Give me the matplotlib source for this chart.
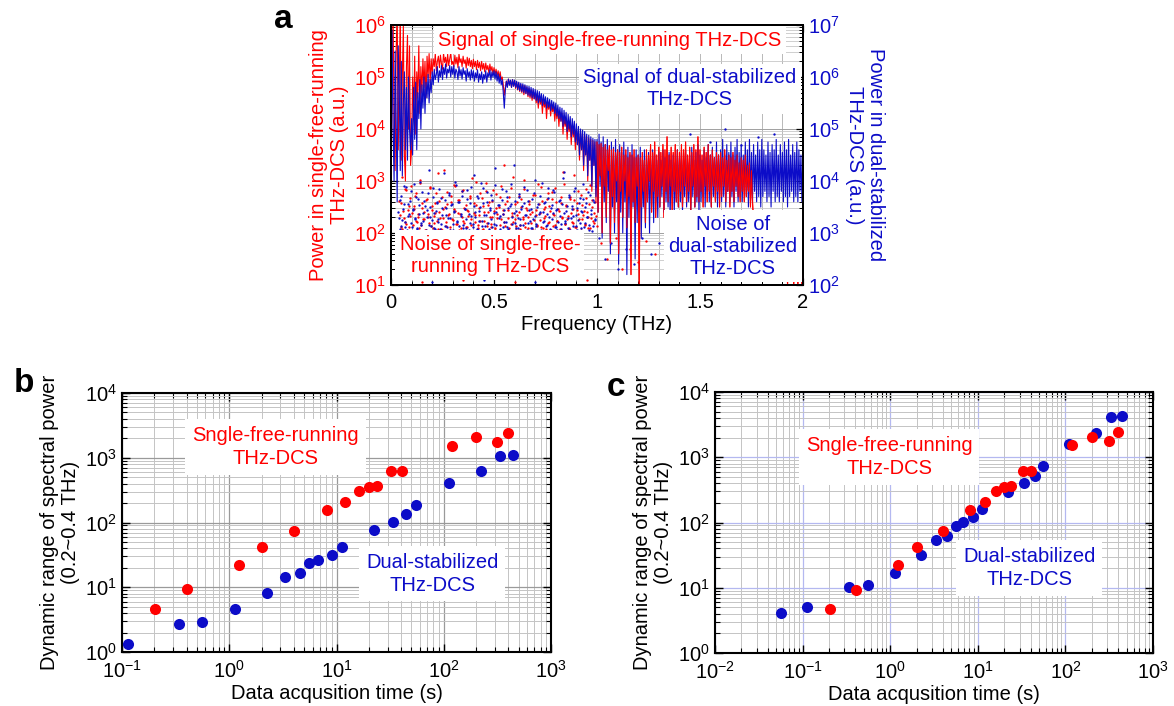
import numpy as np
import matplotlib
matplotlib.use('Agg')
import matplotlib.pyplot as plt
from matplotlib.ticker import LogLocator, MultipleLocator, FixedLocator, NullFormatter, LogFormatterMathtext

plt.rcParams['font.family'] = ['Liberation Sans', 'DejaVu Sans']
plt.rcParams['mathtext.fontset'] = 'custom'
plt.rcParams['mathtext.rm'] = 'Liberation Sans'
plt.rcParams['mathtext.default'] = 'regular'

RED = '#ff0000'
BLUE = '#0c0cc8'
FS = 14.5

# ---------------- Panel a data (log10 of power) ----------------
freq_step = 0.005  # THz, spacing of the listed trace samples
# single-free-running signal, log10 on the left axis (one row = 0.1 THz)
red_signal_log = [
    3.0, 4.5, 6.3, 4.0, 3.2, 5.5, 6.3, 3.6, 4.8, 6.3, 3.4, 5.0, 6.0, 3.5, 3.0, 5.2, 5.8, 4.0, 5.6, 3.3,
    3.6, 5.0, 4.2, 5.4, 3.9, 5.1, 4.6, 5.6, 4.3, 5.2, 4.7, 5.35, 4.8, 5.3, 4.6, 5.4, 5.0, 5.45, 4.9, 5.35,
    5.05, 5.35, 5.2, 5.45, 5.12, 5.3, 5.4, 5.18, 5.42, 5.25, 5.15, 5.46, 5.28, 5.38, 5.2, 5.44, 5.22, 5.35, 5.47, 5.24,
    5.3, 5.2, 5.42, 5.25, 5.38, 5.18, 5.44, 5.28, 5.35, 5.2, 5.4, 5.26, 5.33, 5.17, 5.38, 5.22, 5.36, 5.2, 5.32, 5.16,
    5.34, 5.2, 5.3, 5.14, 5.32, 5.18, 5.28, 5.12, 5.3, 5.15, 5.26, 5.1, 5.27, 5.14, 5.22, 5.08, 5.25, 5.12, 5.2, 5.06,
    5.18, 5.05, 5.15, 5.02, 5.12, 4.98, 5.1, 4.95, 5.0, 4.85, 4.65, 4.8, 4.92, 4.82, 4.96, 4.86, 4.93, 4.8, 4.95, 4.83,
    4.92, 4.78, 4.9, 4.75, 4.88, 4.72, 4.86, 4.7, 4.84, 4.66, 4.83, 4.68, 4.8, 4.62, 4.78, 4.6, 4.75, 4.55, 4.74, 4.58,
    4.7, 4.5, 4.68, 4.4, 4.65, 4.48, 4.6, 4.3, 4.58, 4.42, 4.55, 4.2, 4.52, 4.38, 4.5, 4.25, 4.47, 4.33, 4.45, 4.15,
    4.4, 4.2, 4.38, 4.05, 4.32, 4.15, 4.3, 3.9, 4.25, 4.05, 4.2, 3.8, 4.15, 3.95, 4.12, 3.7, 4.08, 3.85, 4.05, 3.6,
    4.0, 3.7, 3.98, 3.4, 3.95, 3.6, 3.9, 3.2, 3.88, 3.5, 3.85, 3.0, 3.82, 3.4, 3.8, 2.8, 3.78, 3.3, 3.75, 2.6,
    3.75, 2.4, 3.7, 3.1, 3.72, 2.0, 3.65, 2.9, 3.7, 2.3, 3.6, 3.2, 3.68, 1.8, 3.6, 2.7, 3.62, 2.2, 3.55, 3.0,
    3.6, 1.6, 3.55, 2.8, 3.65, 2.3, 3.5, 3.0, 3.6, 2.1, 3.45, 2.7, 3.55, 1.2, 3.5, 2.6, 3.6, 2.2, 3.45, 2.9,
    3.5, 1.0, 3.45, 2.5, 3.55, 2.8, 3.4, 2.2, 3.6, 2.6, 3.5, 3.0, 3.7, 2.4, 3.55, 2.8, 3.75, 2.3, 3.5, 2.7,
    3.65, 2.5, 3.55, 2.9, 3.7, 2.3, 3.6, 2.8, 3.85, 2.6, 3.5, 2.9, 3.65, 2.4, 3.55, 2.8, 3.7, 2.6, 3.6, 2.5,
    3.55, 2.8, 3.7, 2.5, 3.6, 2.9, 3.75, 2.6, 3.5, 2.8, 3.65, 2.4, 3.55, 2.9, 3.7, 2.5, 3.6, 2.7, 3.85, 2.6,
    3.6, 2.8, 3.5, 2.5, 3.65, 2.9, 3.55, 2.6, 3.7, 2.8, 3.5, 2.5, 3.6, 2.9, 3.45, 2.6, 3.55, 2.8, 3.5, 2.5,
    3.55, 2.7, 3.45, 2.9, 3.6, 2.6, 3.4, 2.8, 3.5, 2.5, 3.45, 2.8, 3.55, 2.6, 3.4, 2.9, 3.5, 2.7, 3.35, 2.6,
    3.45, 2.8, 3.4, 2.6, 3.5, 2.7, 3.3, 2.8, 3.35, 2.5, 3.2, 2.6, 2.2, 1.8, 2.1, 1.5, 2.0, 1.6, 1.9, 1.3,
    2.0, 1.4, 1.8, 1.2, 1.9, 1.5, 1.7, 1.1, 1.8, 1.3, 2.0, 1.4, 1.7, 1.2, 1.9, 1.5, 1.6, 1.1, 1.8, 1.3,
    1.9, 1.2, 1.7, 1.4, 1.6, 1.0, 1.8, 1.3, 1.5, 1.1, 1.7, 1.0, 1.6, 1.3, 1.5, 1.0, 1.4, 1.1, 1.5, 1.0,
    1.2]
# dual-stabilized signal, log10 on the right axis (one row = 0.1 THz)
blue_signal_log = [
    4.0, 6.9, 5.0, 4.0, 6.5, 5.2, 3.6, 6.6, 5.8, 4.2, 6.3, 4.1, 5.5, 6.1, 4.6, 5.8, 4.4, 6.0, 5.0, 4.6,
    5.2, 4.5, 5.8, 4.8, 5.9, 4.6, 5.7, 5.2, 5.95, 5.0, 5.85, 5.4, 6.0, 5.3, 5.9, 5.6, 6.05, 5.5, 5.95, 5.7,
    6.1, 5.85, 6.15, 5.95, 6.05, 6.2, 5.9, 6.12, 6.0, 6.22, 5.95, 6.18, 6.05, 6.25, 5.98, 6.15, 6.08, 6.22, 6.0, 6.2,
    6.05, 6.22, 5.98, 6.15, 6.1, 5.95, 6.2, 6.02, 6.14, 5.96, 6.18, 6.05, 6.12, 5.92, 6.16, 6.0, 6.1, 5.94, 6.14, 5.98,
    6.12, 5.92, 6.08, 5.98, 6.14, 5.9, 6.06, 5.95, 6.1, 5.88, 6.05, 5.96, 6.12, 5.9, 6.08, 6.0, 6.14, 5.94, 6.1, 6.0,
    6.12, 5.96, 6.1, 5.92, 6.06, 5.88, 6.02, 5.85, 5.95, 5.7, 5.4, 5.75, 5.92, 5.8, 5.96, 5.84, 5.94, 5.8, 5.95, 5.82,
    5.94, 5.8, 5.92, 5.76, 5.9, 5.74, 5.88, 5.72, 5.87, 5.7, 5.85, 5.68, 5.83, 5.65, 5.82, 5.63, 5.8, 5.6, 5.78, 5.58,
    5.76, 5.55, 5.74, 5.5, 5.72, 5.52, 5.68, 5.45, 5.66, 5.48, 5.62, 5.4, 5.6, 5.42, 5.57, 5.35, 5.55, 5.38, 5.52, 5.3,
    5.5, 5.25, 5.46, 5.2, 5.42, 5.15, 5.4, 5.05, 5.36, 5.1, 5.32, 4.95, 5.28, 5.0, 5.24, 4.85, 5.2, 4.9, 5.15, 4.75,
    5.1, 4.7, 5.05, 4.5, 5.0, 4.6, 4.98, 4.3, 4.95, 4.5, 4.9, 4.1, 4.88, 4.4, 4.85, 3.9, 4.82, 4.3, 4.8, 3.7,
    4.8, 3.4, 4.9, 3.9, 4.75, 2.9, 4.85, 3.6, 4.7, 3.2, 4.8, 3.8, 4.6, 2.6, 4.75, 3.5, 4.65, 3.0, 4.8, 3.6,
    4.6, 2.4, 4.7, 3.4, 4.55, 3.0, 4.75, 3.6, 4.5, 2.2, 4.65, 3.3, 4.5, 2.8, 4.7, 3.5, 4.45, 2.5, 4.6, 3.2,
    4.5, 3.4, 4.65, 2.9, 4.4, 3.5, 4.6, 3.1, 4.45, 3.6, 4.55, 3.0, 4.4, 3.5, 4.6, 3.2, 4.5, 3.6, 4.4, 3.3,
    4.55, 3.5, 4.4, 3.7, 4.6, 3.4, 4.45, 3.6, 4.3, 3.5, 4.55, 3.3, 4.4, 3.7, 4.5, 3.4, 4.35, 3.6, 4.6, 3.5,
    4.45, 3.6, 4.55, 3.4, 4.4, 3.7, 4.6, 3.5, 4.35, 3.6, 4.5, 3.4, 4.65, 3.7, 4.4, 3.5, 4.55, 3.6, 4.7, 3.4,
    4.5, 3.6, 4.4, 3.7, 4.6, 3.5, 4.45, 3.8, 4.7, 3.6, 4.5, 3.5, 4.65, 3.7, 4.45, 3.6, 4.75, 3.5, 4.5, 3.7,
    4.6, 3.6, 4.8, 3.7, 4.5, 3.5, 4.7, 3.8, 4.55, 3.6, 4.75, 3.7, 4.5, 3.5, 4.65, 3.8, 4.8, 3.6, 4.55, 3.7,
    4.7, 3.6, 4.5, 3.8, 4.75, 3.7, 4.6, 3.5, 4.8, 3.7, 4.55, 3.6, 4.7, 3.8, 4.5, 3.6, 4.75, 3.7, 4.6, 3.5,
    4.8, 3.7, 4.6, 3.8, 4.5, 3.6, 4.75, 3.7, 4.55, 3.5, 4.7, 3.8, 4.6, 3.6, 4.8, 3.7, 4.5, 3.6, 4.7, 3.8,
    4.55, 3.6, 4.75, 3.7, 4.6, 3.5, 4.8, 3.7, 4.5, 3.8, 4.7, 3.6, 4.55, 3.7, 4.75, 3.6, 4.6, 3.8, 4.5, 3.6,
    4.7]
# noise floors (log10), two interleaved sample sets spread over 0.04-1.0 THz
red_noise_log = [
    2.62, 2.11, 3.08, 2.43, 2.21, 2.83, 2.04, 2.51, 2.33, 2.91,
    2.16, 2.47, 2.72, 2.24, 2.36, 2.09, 3.01, 2.57, 2.26, 2.41,
    2.06, 2.66, 2.31, 2.86, 2.14, 2.52, 2.19, 2.39, 2.77, 2.08,
    2.61, 2.29, 2.05, 2.46, 3.22, 2.21, 2.56, 2.34, 2.12, 2.71,
    2.27, 2.93, 2.42, 2.17, 2.63, 2.05, 2.37, 2.81, 2.23, 2.49,
    2.11, 2.44, 2.32, 2.67, 2.15, 3.06, 2.38, 2.22, 2.54, 2.09,
    2.35, 2.76, 2.06, 2.51, 2.24, 2.96, 2.13, 2.41, 2.59, 2.18,
    2.31, 2.82, 2.10, 2.48, 2.36, 2.04, 2.69, 2.26, 2.45, 3.31,
    2.14, 2.62, 2.29, 2.09, 2.87, 2.39, 2.21, 2.55, 2.05, 2.34,
    2.71, 2.16, 2.50, 2.27, 3.02, 2.11, 2.44, 2.30, 2.61, 2.19,
    2.40, 2.06, 2.74, 2.35, 2.13, 2.56, 2.25, 2.89, 2.10, 2.46,
    2.32, 2.66, 2.20, 2.52, 2.05, 2.79, 2.37, 2.15, 2.60, 2.24,
    2.43, 2.08, 2.70, 2.28, 2.94, 2.18, 2.53, 2.33, 2.07, 2.65,
    2.22, 2.47, 3.12, 2.12, 2.58, 2.36, 2.04, 2.73, 2.27, 2.42,
    2.17, 2.84, 2.30, 2.55, 2.10, 2.64, 2.23, 2.38, 2.98, 2.14]
red_noise2_log = [
    2.34, 2.58, 2.07, 2.29, 2.85, 2.18, 2.44, 2.12, 2.67, 2.39,
    2.03, 2.52, 2.76, 2.21, 2.31, 2.97, 2.15, 2.48, 2.26, 2.06,
    2.63, 2.37, 2.19, 2.88, 2.45, 2.10, 2.33, 2.57, 2.23, 3.15,
    2.41, 2.08, 2.69, 2.28, 2.50, 2.14, 2.78, 2.36, 2.05, 2.60,
    2.25, 2.47, 2.91, 2.17, 2.39, 2.64, 2.09, 2.30, 2.83, 2.20,
    2.54, 2.12, 2.43, 2.72, 2.27, 2.04, 2.58, 2.35, 2.99, 2.16,
    2.49, 2.24, 2.68, 2.08, 2.40, 2.80, 2.19, 2.53, 2.31, 2.11,
    2.62, 2.42, 2.06, 2.75, 2.28, 2.50, 2.15, 2.90, 2.37, 2.22,
    2.56, 2.03, 2.45, 2.70, 2.18, 2.33, 3.08, 2.26, 2.13, 2.59,
    2.40, 2.07, 2.66, 2.30, 2.84, 2.20, 2.48, 2.10, 2.55, 2.36,
    2.05, 2.73, 2.25, 2.44, 2.16, 2.95, 2.38, 2.12, 2.61, 2.29,
    2.50, 2.08, 2.77, 2.21, 2.42, 2.65, 2.14, 2.34, 2.86, 2.23,
    2.47, 2.04, 2.58, 2.31, 3.18, 2.17, 2.52, 2.27, 2.09, 2.70,
    2.39, 2.20, 2.63, 2.11, 2.45, 2.81, 2.26, 2.06, 2.54, 2.35,
    2.15, 2.67, 2.41, 2.10, 2.92, 2.28, 2.50, 2.19, 2.60, 2.32]
blue_noise_log = [
    3.41, 3.07, 3.72, 3.25, 3.55, 3.12, 3.88, 3.33, 3.04, 3.61,
    3.19, 3.47, 3.95, 3.28, 3.09, 3.66, 3.37, 3.15, 3.79, 3.23,
    3.52, 3.05, 3.44, 4.21, 3.31, 3.13, 3.69, 3.39, 3.08, 3.58,
    3.26, 3.84, 3.17, 3.49, 3.03, 3.63, 3.35, 3.11, 3.76, 3.29,
    3.54, 3.06, 3.42, 3.98, 3.21, 3.60, 3.14, 3.36, 3.71, 3.10,
    3.46, 3.27, 3.82, 3.05, 3.57, 3.32, 3.18, 4.12, 3.40, 3.08,
    3.67, 3.24, 3.50, 3.13, 3.86, 3.34, 3.04, 3.59, 3.20, 3.45,
    3.74, 3.11, 3.38, 3.93, 3.16, 3.53, 3.28, 3.07, 3.64, 3.37,
    3.22, 3.80, 3.12, 3.48, 3.03, 3.56, 3.30, 4.31, 3.19, 3.43,
    3.09, 3.70, 3.26, 3.51, 3.15, 3.89, 3.35, 3.06, 3.62, 3.24,
    3.47, 3.10, 3.77, 3.32, 3.18, 3.55, 3.04, 3.41, 3.96, 3.21,
    3.58, 3.14, 3.36, 3.68, 3.08, 3.49, 3.27, 3.83, 3.12, 3.44,
    3.05, 3.61, 3.33, 3.17, 4.05, 3.39, 3.23, 3.52, 3.09, 3.73,
    3.29, 3.46, 3.13, 3.87, 3.35, 3.06, 3.57, 3.20, 3.42, 3.66,
    3.11, 3.50, 3.31, 3.79, 3.16, 3.45, 3.03, 3.63, 3.25, 3.91]
blue_noise2_log = [
    3.28, 3.63, 3.14, 3.47, 3.90, 3.22, 3.05, 3.56, 3.36, 3.81,
    3.12, 3.44, 3.27, 3.70, 3.08, 3.53, 3.99, 3.19, 3.39, 3.62,
    3.04, 3.31, 3.77, 3.16, 3.50, 3.25, 3.86, 3.10, 3.43, 3.60,
    3.21, 3.07, 3.68, 3.34, 4.15, 3.13, 3.48, 3.29, 3.74, 3.06,
    3.55, 3.18, 3.41, 3.92, 3.24, 3.03, 3.59, 3.33, 3.80, 3.15,
    3.46, 3.09, 3.65, 3.37, 3.20, 3.88, 3.11, 3.52, 3.30, 3.71,
    3.05, 3.42, 3.97, 3.23, 3.58, 3.14, 3.35, 3.78, 3.08, 3.49,
    3.26, 3.64, 3.17, 4.25, 3.40, 3.04, 3.54, 3.32, 3.85, 3.12,
    3.45, 3.21, 3.69, 3.07, 3.51, 3.94, 3.18, 3.38, 3.61, 3.10,
    3.29, 3.75, 3.15, 3.47, 3.03, 3.57, 3.34, 3.83, 3.20, 3.44,
    3.09, 3.66, 3.27, 4.02, 3.13, 3.50, 3.36, 3.72, 3.06, 3.41,
    3.24, 3.59, 3.16, 3.87, 3.31, 3.04, 3.53, 3.39, 3.78, 3.11,
    3.46, 3.22, 3.63, 3.08, 3.55, 4.18, 3.19, 3.43, 3.28, 3.70,
    3.05, 3.52, 3.33, 3.81, 3.14, 3.48, 3.25, 3.67, 3.10, 3.40,
    3.95, 3.20, 3.57, 3.30, 3.06, 3.74, 3.37, 3.13, 3.60, 3.26]
# sparse outlying noise points
red_sparse_f = [1.02, 1.05, 1.09, 1.12, 1.16, 1.20, 1.24, 1.28, 0.15, 0.35, 0.60, 0.80, 0.95]
red_sparse_log = [1.8, 1.5, 1.9, 1.3, 1.7, 1.45, 1.85, 1.6, 1.05, 1.1, 1.05, 1.15, 1.1]
blue_sparse_f = [1.01, 1.04, 1.07, 1.10, 1.14, 1.18, 1.22, 1.26, 1.30, 0.20, 0.45, 0.70, 0.90,
                 1.45, 1.55, 1.62, 1.70, 1.78, 1.86]
blue_sparse_log = [2.9, 2.5, 2.8, 2.3, 2.7, 2.4, 2.9, 2.6, 2.8, 2.05, 2.1, 2.05, 2.15,
                   4.9, 4.75, 5.0, 4.7, 4.85, 4.9]

# ---------------- Panels b, c data ----------------
t_single = [0.204, 0.405, 1.22, 2.03, 4.05, 8.07, 12.1, 16.1, 20.1, 24.1, 32.4, 40.4, 119, 201, 316, 398]
dr_single = [4.67, 9.4, 22.3, 42.4, 74, 156, 207, 306, 353, 362, 617, 617, 1518, 2067, 1772, 2440]
t_dual_b = [0.1135, 0.34, 0.56, 1.12, 2.25, 3.34, 4.52, 5.6, 6.72, 9.02, 11.3, 22.5, 33.4, 44.9, 55.6, 112, 223, 334, 445]
dr_dual_b = [1.35, 2.74, 2.94, 4.61, 8.25, 14.4, 16.8, 23.7, 26.4, 31.5, 41.3, 75.7, 103, 135, 189, 403, 617, 1064, 1116]
t_dual_c = [0.0566, 0.113, 0.336, 0.561, 1.12, 2.26, 3.34, 4.47, 5.6, 6.74, 8.9, 11.2, 22.3, 33.3, 44.5, 55.5, 110, 223, 334, 445]
dr_dual_c = [4.14, 4.99, 10.2, 11.2, 17.1, 31.5, 54.6, 62.9, 89.5, 102, 121, 159, 292, 405, 515, 735, 1580, 2390, 4150, 4350]

fig = plt.figure(figsize=(11.74, 7.06), dpi=100)

# ================= Panel a =================
axA = fig.add_axes([391/1174, 1-285/706, 412/1174, 260/706])
axB = axA.twinx()
f_red = np.arange(len(red_signal_log)) * freq_step
f_blue = np.arange(len(blue_signal_log)) * freq_step
f_rn = np.linspace(0.04, 1.0, len(red_noise_log))
f_rn2 = np.linspace(0.043, 0.997, len(red_noise2_log))
f_bn = np.linspace(0.035, 0.995, len(blue_noise_log))
f_bn2 = np.linspace(0.038, 0.992, len(blue_noise2_log))
red_sig = 10 ** np.array(red_signal_log)

dot = dict(marker='o', ls='none', ms=1.7, mew=0)
axA.plot(f_red, red_sig, color=RED, lw=0.8, zorder=3)
axA.plot(f_rn, 10 ** np.array(red_noise_log), color=RED, zorder=3, **dot)
axA.plot(f_rn2, 10 ** np.array(red_noise2_log), color=RED, zorder=3, **dot)
axA.plot(red_sparse_f, 10 ** np.array(red_sparse_log), color=RED, zorder=3, **dot)
axB.plot(f_blue, 10 ** np.array(blue_signal_log), color=BLUE, lw=0.8, zorder=2)
axB.plot(f_bn, 10 ** np.array(blue_noise_log), color=BLUE, zorder=2, **dot)
axB.plot(f_bn2, 10 ** np.array(blue_noise2_log), color=BLUE, zorder=2, **dot)
axB.plot(blue_sparse_f, 10 ** np.array(blue_sparse_log), color=BLUE, zorder=2, **dot)
# red trace above ~1 THz is drawn over the blue one in the reference:
# re-draw that part on the twin axis (right scale = left scale x 10)
hi = f_red >= 1.0
axB.plot(f_red[hi], red_sig[hi] * 10, color=RED, lw=0.7, zorder=2.5)

axA.set_xlim(0, 2)
axA.set_yscale('log'); axA.set_ylim(1e1, 1e6)
axB.set_yscale('log'); axB.set_ylim(1e2, 1e7)
axA.xaxis.set_major_locator(FixedLocator([0, 0.5, 1, 1.5, 2]))
axA.set_xticklabels(['0', '0.5', '1', '1.5', '2'])
axA.xaxis.set_minor_locator(MultipleLocator(0.1))
for ax in (axA, axB):
    ax.yaxis.set_major_locator(LogLocator(base=10, numticks=20))
    ax.yaxis.set_minor_locator(LogLocator(base=10, subs=np.arange(2, 10), numticks=20))
    ax.yaxis.set_major_formatter(LogFormatterMathtext())
    ax.yaxis.set_minor_formatter(NullFormatter())
axA.grid(which='both', axis='x', color='#b8b8b8', lw=0.7)
axA.grid(which='major', axis='y', color='#a0a0a0', lw=0.7)
axA.grid(which='minor', axis='y', color='#c8c8c8', lw=0.6)
axA.set_axisbelow(True)
axA.tick_params(axis='x', which='both', direction='in', top=True, labelsize=FS, pad=6)
axA.tick_params(axis='y', which='both', direction='in', labelsize=FS, labelcolor=RED)
axB.tick_params(axis='y', which='both', direction='in', labelsize=FS, labelcolor=BLUE)
for ax in (axA, axB):
    ax.tick_params(which='major', length=5, width=0.9)
    ax.tick_params(which='minor', length=3, width=0.7)
    for s in ax.spines.values():
        s.set_linewidth(1.4)
axA.set_xlabel('Frequency (THz)', fontsize=FS, labelpad=2)
axA.set_ylabel('Power in single-free-running\nTHz-DCS (a.u.)', fontsize=FS, color=RED,
               labelpad=4, linespacing=1.1)
axB.set_ylabel('Power in dual-stabilized\nTHz-DCS (a.u.)', fontsize=FS, color=BLUE,
               rotation=-90, va='bottom', labelpad=4, linespacing=1.1)

box = dict(facecolor='white', edgecolor='none', pad=3)
axB.text(0.5316, 0.942, 'Signal of single-free-running THz-DCS', transform=axB.transAxes,
         ha='center', va='center', fontsize=FS, color=RED, bbox=box, zorder=5)
axB.text(0.7257, 0.754, 'Signal of dual-stabilized\nTHz-DCS', transform=axB.transAxes,
         ha='center', va='center', fontsize=FS, color=BLUE, bbox=box, zorder=5, linespacing=1.2)
axB.text(0.240, 0.115, 'Noise of single-free-\nrunning THz-DCS', transform=axB.transAxes,
         ha='center', va='center', fontsize=FS, color=RED, bbox=box, zorder=5, linespacing=1.2)
axB.text(0.830, 0.150, 'Noise of\ndual-stabilized\nTHz-DCS', transform=axB.transAxes,
         ha='center', va='center', fontsize=FS, color=BLUE, bbox=box, zorder=5, linespacing=1.2)

# ================= Panels b, c =================
def style_log(ax, xlim, major_grid, minor_grid):
    ax.set_xscale('log'); ax.set_yscale('log')
    ax.set_xlim(*xlim); ax.set_ylim(1, 1e4)
    for axis in (ax.xaxis, ax.yaxis):
        axis.set_major_locator(LogLocator(base=10, numticks=20))
        axis.set_minor_locator(LogLocator(base=10, subs=np.arange(2, 10), numticks=20))
        axis.set_major_formatter(LogFormatterMathtext())
        axis.set_minor_formatter(NullFormatter())
    ax.grid(which='minor', color=minor_grid, lw=0.7)
    ax.grid(which='major', color=major_grid, lw=0.9)
    ax.set_axisbelow(True)
    ax.tick_params(which='both', direction='in', top=True, right=True, labelsize=FS)
    ax.tick_params(axis='x', which='both', pad=6)
    ax.tick_params(which='major', length=6, width=1)
    ax.tick_params(which='minor', length=3.5, width=0.8)
    for s in ax.spines.values():
        s.set_linewidth(1.5)
    ax.set_xlabel('Data acqusition time (s)', fontsize=FS, labelpad=1)
    ax.set_ylabel('Dynamic range of spectral power\n(0.2~0.4 THz)', fontsize=FS,
                  labelpad=4, linespacing=1.1)

box2 = dict(facecolor='white', edgecolor='none', pad=5)

axb = fig.add_axes([122/1174, 1-652/706, 429/1174, 259/706])
style_log(axb, (0.1, 1000), '#9a9a9a', '#c4c4c4')
axb.plot(t_single, dr_single, 'o', color=RED, ms=8, mew=0, zorder=3)
axb.plot(t_dual_b, dr_dual_b, 'o', color=BLUE, ms=8, mew=0, zorder=3)
axb.text(2.7, 1470, 'Sngle-free-running\nTHz-DCS', ha='center', va='center', fontsize=FS,
         color=RED, bbox=box2, zorder=4, linespacing=1.25)
axb.text(78, 16.2, 'Dual-stabilized\nTHz-DCS', ha='center', va='center', fontsize=FS,
         color=BLUE, bbox=box2, zorder=4, linespacing=1.25)

axc = fig.add_axes([715/1174, 1-653/706, 438/1174, 261/706])
style_log(axc, (0.01, 1000), '#b4b8f0', '#c4c4c4')
axc.plot(t_dual_c, dr_dual_c, 'o', color=BLUE, ms=8, mew=0, zorder=3)
axc.plot(t_single, dr_single, 'o', color=RED, ms=8, mew=0, zorder=3)
axc.text(0.975, 1015, 'Sngle-free-running\nTHz-DCS', ha='center', va='center', fontsize=FS,
         color=RED, bbox=box2, zorder=4, linespacing=1.25)
axc.text(38.5, 20, 'Dual-stabilized\nTHz-DCS', ha='center', va='center', fontsize=FS,
         color=BLUE, bbox=box2, zorder=4, linespacing=1.25)

fig.text(283/1174, 1-19/706, 'a', fontsize=24, fontweight='bold', ha='center', va='center')
fig.text(24/1174, 1-383/706, 'b', fontsize=24, fontweight='bold', ha='center', va='center')
fig.text(616/1174, 1-387/706, 'c', fontsize=24, fontweight='bold', ha='center', va='center')

fig.savefig('out.png', dpi=100)
